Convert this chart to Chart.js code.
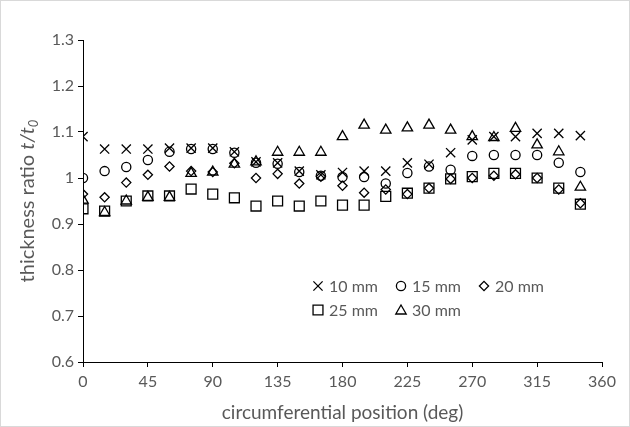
<!DOCTYPE html>
<html>
<head>
<meta charset="utf-8">
<script src="https://cdn.jsdelivr.net/npm/chart.js@4.4.1/dist/chart.umd.min.js"></script>
<style>
    html, body { margin: 0; padding: 0; background: #fff; }
    #wrap { width: 630px; height: 427px; position: relative; }
</style>
</head>
<body>
<div id="wrap"><canvas id="chart" width="630" height="427"></canvas></div>
<script>
// circumferential positions (deg)
const angles = [0, 15, 30, 45, 60, 75, 90, 105, 120, 135, 150, 165,
    180, 195, 210, 225, 240, 255, 270, 285, 300, 315, 330, 345];

// thickness ratio t/t0 per cutting depth
const t10 = [1.090, 1.063, 1.063, 1.063, 1.065, 1.065, 1.065, 1.057, 1.035, 1.033, 1.015, 1.007,
    1.012, 1.015, 1.015, 1.033, 1.030, 1.055, 1.083, 1.090, 1.090, 1.097, 1.097, 1.092];
const t15 = [1.000, 1.015, 1.024, 1.039, 1.057, 1.063, 1.063, 1.055, 1.033, 1.031, 1.013, 1.005,
    1.002, 1.002, 0.988, 1.011, 1.025, 1.018, 1.048, 1.050, 1.050, 1.050, 1.033, 1.013];
const t20 = [0.965, 0.958, 0.990, 1.007, 1.025, 1.015, 1.013, 1.032, 1.000, 1.009, 0.988, 1.003,
    0.983, 0.968, 0.975, 0.965, 0.978, 0.998, 1.000, 1.005, 1.008, 1.000, 0.975, 0.945];
const t25 = [0.933, 0.928, 0.950, 0.961, 0.961, 0.976, 0.965, 0.957, 0.939, 0.950, 0.939, 0.950,
    0.941, 0.941, 0.960, 0.967, 0.978, 0.998, 1.003, 1.010, 1.010, 1.000, 0.978, 0.943];
const t30 = [0.952, 0.925, 0.950, 0.958, 0.958, 1.010, 1.013, 1.030, 1.035, 1.056, 1.056, 1.056,
    1.090, 1.115, 1.104, 1.109, 1.115, 1.104, 1.090, 1.088, 1.108, 1.072, 1.057, 0.980];

const seriesNames = ['10 mm', '15 mm', '20 mm', '25 mm', '30 mm'];
const xTicks = [0, 45, 90, 135, 180, 225, 270, 315, 360];
const yTicks = [0.6, 0.7, 0.8, 0.9, 1.0, 1.1, 1.2, 1.3];

const FONT = 'Lato, "Open Sans", sans-serif';
const GREY = '#595959';

const styles = [
    {pointStyle: 'crossRot', radius: 6.5},
    {pointStyle: 'circle', radius: 4.6},
    {pointStyle: 'rectRot', radius: 4.6},
    {pointStyle: 'rect', radius: 7},
    {pointStyle: 'triangle', radius: 6}
];

const allSeries = [t10, t15, t20, t25, t30];

const datasets = allSeries.map((vals, i) => ({
    label: seriesNames[i],
    data: angles.map((a, j) => ({x: a, y: vals[j]})),
    showLine: false,
    pointStyle: styles[i].pointStyle,
    pointRadius: styles[i].radius,
    pointHoverRadius: styles[i].radius,
    pointBorderColor: '#000',
    pointBackgroundColor: 'rgba(0,0,0,0)',
    pointBorderWidth: 1.3
}));

function drawMarker(ctx, style, x, y, r) {
    ctx.beginPath();
    if(style === 'crossRot') {
        const o = Math.SQRT1_2 * r;
        ctx.moveTo(x - o, y - o); ctx.lineTo(x + o, y + o);
        ctx.moveTo(x + o, y - o); ctx.lineTo(x - o, y + o);
    } else if(style === 'circle') {
        ctx.arc(x, y, r, 0, Math.PI * 2);
    } else if(style === 'rectRot') {
        ctx.moveTo(x - r, y); ctx.lineTo(x, y - r);
        ctx.lineTo(x + r, y); ctx.lineTo(x, y + r); ctx.closePath();
    } else if(style === 'rect') {
        const s = Math.SQRT1_2 * r;
        ctx.rect(x - s, y - s, 2 * s, 2 * s);
    } else if(style === 'triangle') {
        ctx.moveTo(x, y - r);
        ctx.lineTo(x + r * 0.866, y + r / 2);
        ctx.lineTo(x - r * 0.866, y + r / 2);
        ctx.closePath();
    }
    ctx.stroke();
}

const extras = {
    id: 'extras',
    afterDraw(chart) {
        const ctx = chart.ctx;
        ctx.save();

        // outer frame
        ctx.strokeStyle = '#d9d9d9';
        ctx.lineWidth = 1;
        ctx.strokeRect(0.5, 0.5, 629, 426);

        // legend, three columns
        const cols = [318, 401, 484];
        const rows = [286, 310];
        ctx.font = '16px ' + FONT;
        ctx.textBaseline = 'middle';
        ctx.textAlign = 'left';
        seriesNames.forEach((name, i) => {
            const x = cols[i % 3];
            const y = rows[Math.floor(i / 3)];
            ctx.strokeStyle = '#000';
            ctx.lineWidth = 1.3;
            const yy = styles[i].pointStyle === 'triangle' ? y + 1 : y;
            drawMarker(ctx, styles[i].pointStyle, x, yy, styles[i].radius);
            ctx.fillStyle = GREY;
            ctx.fillText(name, x + 11, y + 1);
        });

        // y axis title with italic t/t0
        ctx.translate(27, 201);
        ctx.rotate(-Math.PI / 2);
        ctx.fillStyle = GREY;
        ctx.textBaseline = 'alphabetic';
        const plain = 'thickness ratio ';
        const ital = 't/t';
        ctx.font = '20px ' + FONT;
        const w1 = ctx.measureText(plain).width;
        ctx.font = 'italic 20px ' + FONT;
        const w2 = ctx.measureText(ital).width;
        ctx.font = 'italic 13px ' + FONT;
        const w3 = ctx.measureText('0').width;
        let x0 = -(w1 + w2 + w3) / 2;
        const base = 7;
        ctx.font = '20px ' + FONT;
        ctx.fillText(plain, x0, base);
        x0 += w1;
        ctx.font = 'italic 20px ' + FONT;
        ctx.fillText(ital, x0, base);
        x0 += w2;
        ctx.font = 'italic 13px ' + FONT;
        ctx.fillText('0', x0, base + 4);
        ctx.restore();
    }
};

new Chart(document.getElementById('chart'), {
    type: 'scatter',
    data: {datasets},
    options: {
        responsive: false,
        animation: false,
        events: [],
        layout: {padding: {top: 40, right: 28, left: 0, bottom: 0}},
        plugins: {legend: {display: false}, tooltip: {enabled: false}},
        scales: {
            x: {
                type: 'linear',
                min: 0,
                max: 360,
                afterFit: scale => { scale.height = 65; },
                afterBuildTicks: scale => { scale.ticks = xTicks.map(v => ({value: v})); },
                ticks: {color: GREY, font: {family: FONT, size: 16}, padding: 5},
                grid: {drawOnChartArea: false, drawTicks: true, tickLength: 5, color: '#000', lineWidth: 1},
                border: {display: true, color: '#000', width: 1},
                title: {
                    display: true,
                    text: 'circumferential position (deg)',
                    color: GREY,
                    font: {family: FONT, size: 19},
                    padding: {top: 0, bottom: 3}
                }
            },
            y: {
                type: 'linear',
                min: 0.6,
                max: 1.3,
                afterFit: scale => { scale.width = 83; },
                afterBuildTicks: scale => { scale.ticks = yTicks.map(v => ({value: v})); },
                ticks: {
                    color: GREY,
                    font: {family: FONT, size: 16},
                    padding: 4,
                    callback: v => String(parseFloat(Number(v).toFixed(1)))
                },
                grid: {drawOnChartArea: false, drawTicks: true, tickLength: 5, color: '#000', lineWidth: 1},
                border: {display: true, color: '#000', width: 1}
            }
        }
    },
    plugins: [extras]
});
</script>
</body>
</html>
